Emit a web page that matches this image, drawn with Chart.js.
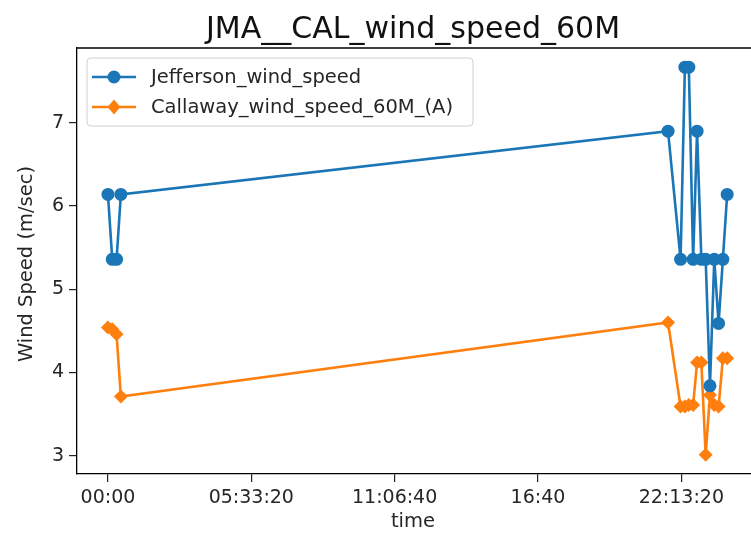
<!DOCTYPE html>
<html>
<head>
<meta charset="utf-8">
<script src="https://cdn.jsdelivr.net/npm/chart.js@4/dist/chart.umd.min.js"></script>
<style>
  html, body { margin: 0; padding: 0; background: #ffffff; }
  #wrap { width: 751px; height: 539px; position: relative; }
</style>
</head>
<body>
<div id="wrap"><canvas id="c" width="751" height="539"></canvas></div>
<script>
// Observation times in seconds from midnight
const timeSec = [0, 600, 1200, 1800,
  78150, 79900, 80500, 81050, 81650, 82200, 82800, 83400, 84000, 84600, 85200, 85800, 86400];
// Wind speed series (m/sec)
const jeffersonSpeed = [6.14, 5.36, 5.36, 6.14,
  6.90, 5.36, 7.67, 7.67, 5.36, 6.90, 5.36, 5.36, 3.84, 5.36, 4.59, 5.36, 6.14];
const callawaySpeed = [4.54, 4.52, 4.46, 3.71,
  4.60, 3.59, 3.59, 3.61, 3.61, 4.12, 4.12, 3.01, 3.73, 3.61, 3.59, 4.17, 4.17];
const seriesNames = ['Jefferson_wind_speed', 'Callaway_wind_speed_60M_(A)'];
// Axis ticks
const xTickValues = [0, 20000, 40000, 60000, 80000];
const xTickLabels = ['00:00', '05:33:20', '11:06:40', '16:40', '22:13:20'];
const yTickValues = [3, 4, 5, 6, 7];
const yTickLabels = ['3', '4', '5', '6', '7'];

const BLUE = '#1a76b6';
const ORANGE = '#ff7f0e';
const FONT = '"DejaVu Sans", Verdana, sans-serif';
const TEXT = '#262626';

const toPoints = (ys) => ys.map((y, i) => ({ x: timeSec[i], y }));

function drawMarker(ctx, style, x, y, r, color) {
  ctx.save();
  ctx.fillStyle = color;
  ctx.beginPath();
  if (style === 'circle') {
    ctx.arc(x, y, r, 0, Math.PI * 2);
  } else {
    ctx.moveTo(x, y - r);
    ctx.lineTo(x + r * 0.85, y);
    ctx.lineTo(x, y + r);
    ctx.lineTo(x - r * 0.85, y);
    ctx.closePath();
  }
  ctx.fill();
  ctx.restore();
}

// Frame top line, title, axis titles and legend box
const decorations = {
  id: 'decorations',
  afterDraw(chart) {
    const ctx = chart.ctx;
    const a = chart.chartArea;
    ctx.save();
    // top spine
    ctx.strokeStyle = '#000';
    ctx.lineWidth = 1.3;
    ctx.beginPath();
    ctx.moveTo(a.left, a.top);
    ctx.lineTo(a.right, a.top);
    ctx.stroke();

    // title
    ctx.fillStyle = '#111';
    ctx.textAlign = 'center';
    ctx.textBaseline = 'alphabetic';
    ctx.font = '30px ' + FONT;
    ctx.fillText('JMA__CAL_wind_speed_60M', 413, 38);

    // axis titles
    ctx.fillStyle = TEXT;
    ctx.font = '19.5px ' + FONT;
    ctx.textBaseline = 'middle';
    ctx.fillText('time', 413, 522);
    ctx.save();
    ctx.translate(27, 264);
    ctx.rotate(-Math.PI / 2);
    ctx.fillText('Wind Speed (m/sec)', 0, 0);
    ctx.restore();

    // legend
    const bx = 87, by = 58, bw = 386, bh = 68, rr = 4;
    ctx.beginPath();
    ctx.moveTo(bx + rr, by);
    ctx.arcTo(bx + bw, by, bx + bw, by + bh, rr);
    ctx.arcTo(bx + bw, by + bh, bx, by + bh, rr);
    ctx.arcTo(bx, by + bh, bx, by, rr);
    ctx.arcTo(bx, by, bx + bw, by, rr);
    ctx.closePath();
    ctx.fillStyle = 'rgba(255,255,255,0.8)';
    ctx.fill();
    ctx.strokeStyle = '#d0d0d0';
    ctx.lineWidth = 1;
    ctx.stroke();

    const rows = [77, 107];
    chart.data.datasets.forEach((ds, i) => {
      const y = rows[i];
      ctx.strokeStyle = ds.borderColor;
      ctx.lineWidth = 2.5;
      ctx.beginPath();
      ctx.moveTo(92, y);
      ctx.lineTo(136, y);
      ctx.stroke();
      drawMarker(ctx, ds.pointStyle === 'circle' ? 'circle' : 'diamond', 114, y,
        ds.pointStyle === 'circle' ? 6.5 : 7.5, ds.borderColor);
      ctx.fillStyle = TEXT;
      ctx.textAlign = 'left';
      ctx.textBaseline = 'middle';
      ctx.font = '19.5px ' + FONT;
      ctx.fillText(ds.label, 151, y + 1);
    });
    ctx.restore();
  }
};

new Chart(document.getElementById('c'), {
  type: 'line',
  data: {
    datasets: [
      {
        label: seriesNames[0],
        data: toPoints(jeffersonSpeed),
        borderColor: BLUE,
        backgroundColor: BLUE,
        borderWidth: 2.6,
        pointStyle: 'circle',
        pointRadius: 6.5,
        pointBorderWidth: 0,
        tension: 0
      },
      {
        label: seriesNames[1],
        data: toPoints(callawaySpeed),
        borderColor: ORANGE,
        backgroundColor: ORANGE,
        borderWidth: 2.6,
        pointStyle: 'rectRot',
        pointRadius: 7,
        pointBorderWidth: 0,
        tension: 0
      }
    ]
  },
  options: {
    responsive: false,
    animation: false,
    events: [],
    layout: { autoPadding: false, padding: { top: 48, right: 0, left: 0, bottom: 0 } },
    plugins: {
      legend: { display: false },
      title: { display: false },
      tooltip: { enabled: false }
    },
    scales: {
      x: {
        type: 'linear',
        min: -4320,
        max: 89725,
        afterBuildTicks: (s) => { s.ticks = xTickValues.map(v => ({ value: v })); },
        afterFit: (s) => { s.height = 65; s.paddingRight = 0; s.paddingLeft = 0; },
        grid: { drawOnChartArea: false, drawTicks: true, tickLength: 8, color: '#222', lineWidth: 1.2 },
        border: { display: true, color: '#000', width: 1.3 },
        ticks: {
          autoSkip: false,
          maxRotation: 0,
          padding: 5,
          color: TEXT,
          font: { family: FONT, size: 19 },
          callback: (v, i) => xTickLabels[i]
        }
      },
      y: {
        type: 'linear',
        min: 2.78,
        max: 7.9,
        afterBuildTicks: (s) => { s.ticks = yTickValues.map(v => ({ value: v })); },
        afterFit: (s) => { s.width = 77; s.paddingTop = 0; s.paddingBottom = 0; },
        grid: { drawOnChartArea: false, drawTicks: true, tickLength: 8, color: '#222', lineWidth: 1.2 },
        border: { display: true, color: '#000', width: 1.3 },
        ticks: {
          autoSkip: false,
          padding: 5,
          color: TEXT,
          font: { family: FONT, size: 19 },
          callback: (v, i) => yTickLabels[i]
        }
      }
    }
  },
  plugins: [decorations]
});
</script>
</body>
</html>
